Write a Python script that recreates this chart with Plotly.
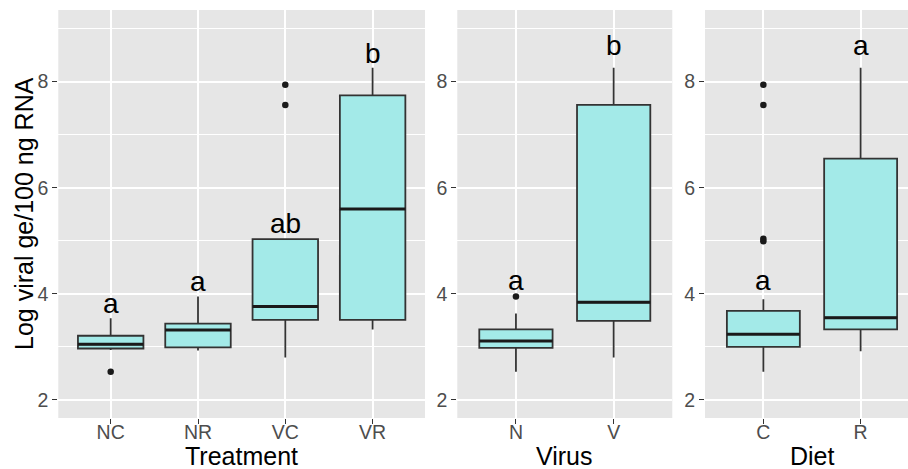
import plotly.graph_objects as go

# ---------------- data ----------------
treat_cats = ["NC", "NR", "VC", "VR"]
treat_q1 = [2.97, 2.99, 3.51, 3.51]
treat_median = [3.05, 3.32, 3.76, 5.60]
treat_q3 = [3.21, 3.44, 5.03, 7.74]
treat_lower = [2.94, 2.93, 2.80, 3.33]
treat_upper = [3.54, 3.95, 5.03, 8.26]
treat_out_cats = ["NC", "VC", "VC"]
treat_out_vals = [2.53, 7.94, 7.56]
treat_letters = ["a", "a", "ab", "b"]
treat_letter_y = [3.82, 4.23, 5.33, 8.53]

virus_cats = ["N", "V"]
virus_q1 = [2.98, 3.49]
virus_median = [3.11, 3.84]
virus_q3 = [3.33, 7.56]
virus_lower = [2.53, 2.80]
virus_upper = [3.63, 8.26]
virus_out_cats = ["N"]
virus_out_vals = [3.95]
virus_letters = ["a", "b"]
virus_letter_y = [4.26, 8.69]

diet_cats = ["C", "R"]
diet_q1 = [3.00, 3.33]
diet_median = [3.24, 3.55]
diet_q3 = [3.68, 6.55]
diet_lower = [2.53, 2.92]
diet_upper = [3.90, 8.26]
diet_out_cats = ["C", "C", "C", "C"]
diet_out_vals = [7.94, 7.56, 5.04, 4.99]
diet_letters = ["a", "a"]
diet_letter_y = [4.26, 8.69]

y_title = "Log viral ge/100 ng RNA"
x_titles = ["Treatment", "Virus", "Diet"]
y_tickvals = [2, 4, 6, 8]

# ---------------- style ----------------
FONT = "Liberation Sans, Arial, sans-serif"
FILL = "#A3EAE8"
EDGE = "#333333"
PANEL_BG = "#E6E6E6"
W, H = 908, 469
MT, MB = 10, 51
PH = H - MT - MB

panels = [
    dict(cats=treat_cats, q1=treat_q1, med=treat_median, q3=treat_q3, lo=treat_lower, hi=treat_upper,
         oc=treat_out_cats, ov=treat_out_vals, lab=treat_letters, ly=treat_letter_y,
         dom=[58.3 / W, 425 / W], xr=[-0.6, len(treat_cats) - 0.4], title_px=241.5),
    dict(cats=virus_cats, q1=virus_q1, med=virus_median, q3=virus_q3, lo=virus_lower, hi=virus_upper,
         oc=virus_out_cats, ov=virus_out_vals, lab=virus_letters, ly=virus_letter_y,
         dom=[457.3 / W, 672.3 / W], xr=[-0.6, len(virus_cats) - 0.4], title_px=564.8),
    dict(cats=diet_cats, q1=diet_q1, med=diet_median, q3=diet_q3, lo=diet_lower, hi=diet_upper,
         oc=diet_out_cats, ov=diet_out_vals, lab=diet_letters, ly=diet_letter_y,
         dom=[705 / W, 1.0], xr=[-0.6, 1.487], title_px=812.5),
]

fig = go.Figure()
shapes = []
annotations = []
BOXW = 0.75

for i, p in enumerate(panels):
    n = "" if i == 0 else str(i + 1)
    xa, ya = "x" + n, "y" + n
    fig.add_trace(go.Box(
        x=p["cats"], q1=p["q1"], median=p["med"], q3=p["q3"],
        lowerfence=p["lo"], upperfence=p["hi"],
        fillcolor=FILL, line=dict(color=EDGE, width=1.8),
        whiskerwidth=0, width=BOXW, boxpoints=False,
        xaxis=xa, yaxis=ya, showlegend=False, hoverinfo="skip",
    ))
    fig.add_trace(go.Scatter(
        x=p["oc"], y=p["ov"], mode="markers",
        marker=dict(color="#1A1A1A", size=6.5),
        xaxis=xa, yaxis=ya, showlegend=False, hoverinfo="skip",
    ))
    for k, m in enumerate(p["med"]):
        shapes.append(dict(type="line", xref=xa, yref=ya,
                           x0=k - BOXW / 2, x1=k + BOXW / 2, y0=m, y1=m,
                           line=dict(color="#1A1A1A", width=3), layer="above"))
    for k, (t, yy) in enumerate(zip(p["lab"], p["ly"])):
        annotations.append(dict(x=p["cats"][k], y=yy, xref=xa, yref=ya, text=t,
                                showarrow=False, yanchor="middle", xanchor="center",
                                font=dict(family=FONT, size=28, color="black")))
    annotations.append(dict(x=p["title_px"] / W, y=(H - MB - 456) / PH, xref="paper", yref="paper",
                            text=x_titles[i], showarrow=False, yanchor="middle", xanchor="center",
                            font=dict(family=FONT, size=25, color="black")))

    axis_common = dict(showline=False, zeroline=False, ticks="outside", ticklen=5,
                       tickcolor=EDGE, tickwidth=1,
                       tickfont=dict(family=FONT, size=19.5, color="#4D4D4D"),
                       showgrid=True, gridcolor="white", gridwidth=1.5)
    fig.update_layout({
        "xaxis" + n: dict(domain=p["dom"], range=p["xr"], type="category",
                          anchor=ya, ticklabelstandoff=-8, **axis_common),
        "yaxis" + n: dict(domain=[0, 1], range=[1.66, 9.35], anchor=xa,
                          tickvals=y_tickvals,
                          minor=dict(dtick=1, tick0=1, showgrid=True, gridcolor="white",
                                     gridwidth=0.7, ticks=""),
                          **axis_common),
    })

annotations.append(dict(x=24 / W, y=(H - MB - 214) / PH, xref="paper", yref="paper",
                        text=y_title, textangle=-90, showarrow=False,
                        xanchor="center", yanchor="middle",
                        font=dict(family=FONT, size=25, color="black")))

fig.update_layout(
    width=W, height=H,
    margin=dict(l=0, r=0, t=MT, b=MB, pad=0),
    paper_bgcolor="white", plot_bgcolor=PANEL_BG,
    shapes=shapes, annotations=annotations,
    font=dict(family=FONT),
)

fig.write_html("out.html", config={"displayModeBar": False},
               post_script="document.body.style.margin='0px';")
